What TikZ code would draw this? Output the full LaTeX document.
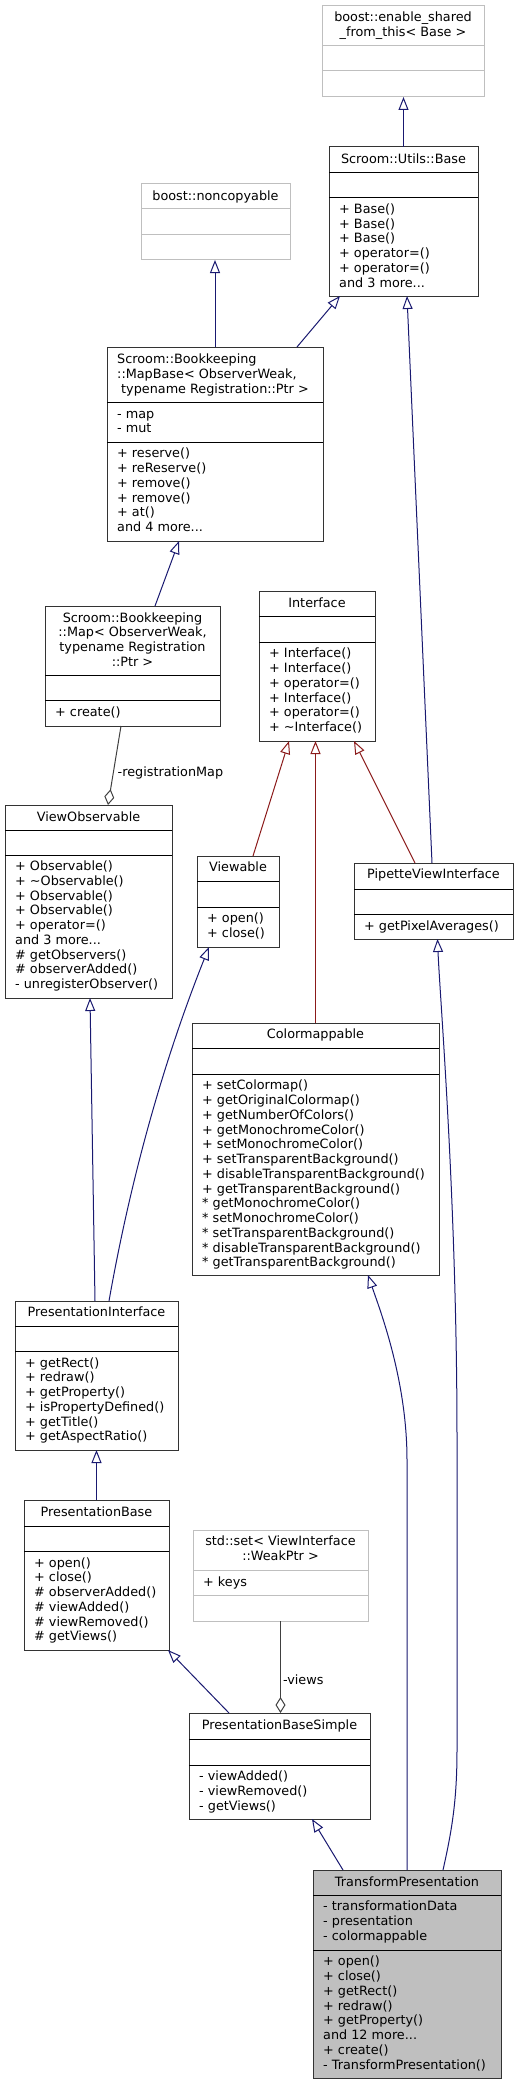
\documentclass[tikz,border=0pt]{standalone}
\usepackage{fontspec}
\setmainfont{DejaVu Sans}
\usetikzlibrary{arrows.meta}

\definecolor{inhblue}{HTML}{191970}
\definecolor{inhred}{HTML}{8B1A1A}
\definecolor{agggray}{HTML}{404040}
\definecolor{extgray}{HTML}{BFBFBF}
\newcommand{\umlfont}{\fontsize{12.8}{14.75}\selectfont}
\newcommand{\leftlines}[1]{\begin{tabular}[t]{@{}l@{}}#1\end{tabular}}
\newcommand{\midlines}[1]{\begin{tabular}[t]{@{}c@{}}#1\end{tabular}}

\tikzset{
  cls/.style={draw=black!80, line width=1pt, inner sep=0pt, outer sep=0pt, anchor=north west},
  extcls/.style={cls, draw=extgray},
  sepline/.style={line width=1pt, black},
  extsep/.style={line width=1pt, extgray},
  ttl/.style={inner sep=0pt, anchor=base, font=\umlfont},
  mbr/.style={inner sep=0pt, anchor=base west, font=\umlfont},
  lbl/.style={inner sep=0pt, font=\umlfont, black},
  inh/.style={line width=1pt, inhblue, -{Triangle[open, length=13pt, width=10pt]}},
  inhr/.style={inh, inhred},
  agg/.style={line width=1pt, agggray, -{Diamond[open, length=16pt, width=10pt]}},
}

\begin{document}
\begin{tikzpicture}[x=1pt, y=-1pt]
  \useasboundingbox (0,0) rectangle (519,2084);

  % boost::enable_shared_from_this
  \node[extcls, minimum width=162pt, minimum height=91pt] (esft) at (322,6) {};
  \draw[extsep] (esft.west |- 0,46) -- (esft.east |- 0,46);
  \draw[extsep] (esft.west |- 0,71) -- (esft.east |- 0,71);
  \node[ttl] (esft-t) at (403,21.5) {\midlines{boost::enable\_shared\\\_from\_this< Base >}};

  % Scroom::Utils::Base
  \node[cls, minimum width=149pt, minimum height=149pt] (base) at (329,147) {};
  \draw[sepline] (base.west |- 0,173) -- (base.east |- 0,173);
  \draw[sepline] (base.west |- 0,198) -- (base.east |- 0,198);
  \node[ttl] (base-t) at (403.5,163.5) {Scroom::Utils::Base};
  \node[mbr] (base-m) at (339,213.5) {\leftlines{+ Base()\\+ Base()\\+ Base()\\+ operator=()\\+ operator=()\\and 3 more...}};

  % boost::noncopyable
  \node[extcls, minimum width=149pt, minimum height=76pt] (noncopy) at (141,184) {};
  \draw[extsep] (noncopy.west |- 0,209) -- (noncopy.east |- 0,209);
  \draw[extsep] (noncopy.west |- 0,235) -- (noncopy.east |- 0,235);
  \node[ttl] (noncopy-t) at (215.5,200.5) {boost::noncopyable};

  % MapBase
  \node[cls, minimum width=216pt, minimum height=194pt] (mapbase) at (107,347) {};
  \draw[sepline] (mapbase.west |- 0,402) -- (mapbase.east |- 0,402);
  \draw[sepline] (mapbase.west |- 0,442) -- (mapbase.east |- 0,442);
  \node[mbr] (mapbase-t) at (117,363.5) {\leftlines{Scroom::Bookkeeping\\::MapBase< ObserverWeak,\\\hspace*{4pt}typename Registration::Ptr >}};
  \node[mbr] (mapbase-a) at (117,418) {\leftlines{- map\\- mut}};
  \node[mbr] (mapbase-m) at (117,457.8) {\leftlines{+ reserve()\\+ reReserve()\\+ remove()\\+ remove()\\+ at()\\and 4 more...}};

  % Map
  \node[cls, minimum width=175pt, minimum height=120pt] (map) at (45,606) {};
  \draw[sepline] (map.west |- 0,675) -- (map.east |- 0,675);
  \draw[sepline] (map.west |- 0,700) -- (map.east |- 0,700);
  \node[ttl] (map-t) at (132.5,622) {\midlines{Scroom::Bookkeeping\\::Map< ObserverWeak,\\typename Registration\\::Ptr >}};
  \node[mbr] (map-m) at (55,716.5) {+ create()};

  % Interface
  \node[cls, minimum width=116pt, minimum height=150pt] (iface) at (259,591) {};
  \draw[sepline] (iface.west |- 0,616) -- (iface.east |- 0,616);
  \draw[sepline] (iface.west |- 0,642) -- (iface.east |- 0,642);
  \node[ttl] (iface-t) at (317,607) {Interface};
  \node[mbr] (iface-m) at (269,657.8) {\leftlines{+ Interface()\\+ Interface()\\+ operator=()\\+ Interface()\\+ operator=()\\+ \textasciitilde Interface()}};

  % ViewObservable
  \node[cls, minimum width=167pt, minimum height=193pt] (viewobs) at (5,805) {};
  \draw[sepline] (viewobs.west |- 0,830) -- (viewobs.east |- 0,830);
  \draw[sepline] (viewobs.west |- 0,855) -- (viewobs.east |- 0,855);
  \node[ttl] (viewobs-t) at (88.5,821) {ViewObservable};
  \node[mbr] (viewobs-m) at (15,870.5) {\leftlines{+ Observable()\\+ \textasciitilde Observable()\\+ Observable()\\+ Observable()\\+ operator=()\\and 3 more...\\\# getObservers()\\\# observerAdded()\\- unregisterObserver()}};

  % Viewable
  \node[cls, minimum width=82pt, minimum height=91pt] (viewable) at (197,856) {};
  \draw[sepline] (viewable.west |- 0,881) -- (viewable.east |- 0,881);
  \draw[sepline] (viewable.west |- 0,907) -- (viewable.east |- 0,907);
  \node[ttl] (viewable-t) at (238,871.5) {Viewable};
  \node[mbr] (viewable-m) at (207,922.8) {\leftlines{+ open()\\+ close()}};

  % PipetteViewInterface
  \node[cls, minimum width=159pt, minimum height=76pt] (pipette) at (354,863) {};
  \draw[sepline] (pipette.west |- 0,889) -- (pipette.east |- 0,889);
  \draw[sepline] (pipette.west |- 0,914) -- (pipette.east |- 0,914);
  \node[ttl] (pipette-t) at (433.5,878.8) {PipetteViewInterface};
  \node[mbr] (pipette-m) at (364,930) {+ getPixelAverages()};

  % Colormappable
  \node[cls, minimum width=247pt, minimum height=252pt] (cmap) at (192,1023) {};
  \draw[sepline] (cmap.west |- 0,1048) -- (cmap.east |- 0,1048);
  \draw[sepline] (cmap.west |- 0,1074) -- (cmap.east |- 0,1074);
  \node[ttl] (cmap-t) at (315.5,1038.8) {Colormappable};
  \node[mbr] (cmap-m) at (202,1089.8) {\leftlines{+ setColormap()\\+ getOriginalColormap()\\+ getNumberOfColors()\\+ getMonochromeColor()\\+ setMonochromeColor()\\+ setTransparentBackground()\\+ disableTransparentBackground()\\+ getTransparentBackground()\\{*} getMonochromeColor()\\{*} setMonochromeColor()\\{*} setTransparentBackground()\\{*} disableTransparentBackground()\\{*} getTransparentBackground()}};

  % PresentationInterface
  \node[cls, minimum width=163pt, minimum height=149pt] (presiface) at (15,1301) {};
  \draw[sepline] (presiface.west |- 0,1326) -- (presiface.east |- 0,1326);
  \draw[sepline] (presiface.west |- 0,1351) -- (presiface.east |- 0,1351);
  \node[ttl] (presiface-t) at (96.5,1316.8) {PresentationInterface};
  \node[mbr] (presiface-m) at (25,1367.2) {\leftlines{+ getRect()\\+ redraw()\\+ getProperty()\\+ isPropertyDefined()\\+ getTitle()\\+ getAspectRatio()}};

  % PresentationBase
  \node[cls, minimum width=145pt, minimum height=150pt] (presbase) at (24,1500) {};
  \draw[sepline] (presbase.west |- 0,1526) -- (presbase.east |- 0,1526);
  \draw[sepline] (presbase.west |- 0,1551) -- (presbase.east |- 0,1551);
  \node[ttl] (presbase-t) at (96.5,1516.8) {PresentationBase};
  \node[mbr] (presbase-m) at (34,1567.2) {\leftlines{+ open()\\+ close()\\\# observerAdded()\\\# viewAdded()\\\# viewRemoved()\\\# getViews()}};

  % std::set
  \node[extcls, minimum width=175pt, minimum height=91pt] (stdset) at (193,1530) {};
  \draw[extsep] (stdset.west |- 0,1570) -- (stdset.east |- 0,1570);
  \draw[extsep] (stdset.west |- 0,1595) -- (stdset.east |- 0,1595);
  \node[ttl] (stdset-t) at (280.5,1545.8) {\midlines{std::set< ViewInterface\\::WeakPtr >}};
  \node[mbr] (stdset-a) at (203,1586.2) {+ keys};

  % PresentationBaseSimple
  \node[cls, minimum width=181pt, minimum height=106pt] (pbsimple) at (189,1713) {};
  \draw[sepline] (pbsimple.west |- 0,1739) -- (pbsimple.east |- 0,1739);
  \draw[sepline] (pbsimple.west |- 0,1765) -- (pbsimple.east |- 0,1765);
  \node[ttl] (pbsimple-t) at (279.5,1729.8) {PresentationBaseSimple};
  \node[mbr] (pbsimple-m) at (199,1780.5) {\leftlines{- viewAdded()\\- viewRemoved()\\- getViews()}};

  % TransformPresentation
  \node[cls, fill=extgray, minimum width=188pt, minimum height=208pt] (transform) at (313,1870) {};
  \draw[sepline] (transform.west |- 0,1895) -- (transform.east |- 0,1895);
  \draw[sepline] (transform.west |- 0,1950) -- (transform.east |- 0,1950);
  \node[ttl] (transform-t) at (407,1886.2) {TransformPresentation};
  \node[mbr] (transform-a) at (323,1910.8) {\leftlines{- transformationData\\- presentation\\- colormappable}};
  \node[mbr] (transform-m) at (323,1965.8) {\leftlines{+ open()\\+ close()\\+ getRect()\\+ redraw()\\+ getProperty()\\and 12 more...\\+ create()\\- TransformPresentation()}};

  % inheritance
  \draw[inh] (base.north) -- (base.north |- esft.south);
  \draw[inh] (mapbase.north) -- (mapbase.north |- noncopy.south);
  \draw[inh] ([xshift=190pt]mapbase.north west) -- ([xshift=11pt]base.south west);
  \draw[inh] ([xshift=110pt]map.north west) -- ([xshift=72pt]mapbase.south west);
  \draw[inhr] ([xshift=56pt]viewable.north west) -- ([xshift=30pt]iface.south west);
  \draw[inhr] (cmap.north) -- (cmap.north |- iface.south);
  \draw[inhr] ([xshift=61pt]pipette.north west) -- ([xshift=-21pt]iface.south east);
  \draw[inh] ([xshift=-1.5pt]pipette.north) -- ([xshift=3.5pt]base.south);
  \draw[inh] ([xshift=80pt]presiface.north west) -- ([xshift=85pt]viewobs.south west);
  \draw[inh] ([xshift=94pt]presiface.north west) .. controls (130,1182) and (162,1065) .. ([xshift=12pt]viewable.south west);
  \draw[inh] (presbase.north) -- (presiface.south);
  \draw[inh] ([xshift=40pt]pbsimple.north west) -- ([xshift=-1pt]presbase.south east);
  \draw[inh] ([xshift=30pt]transform.north west) -- ([xshift=123pt]pbsimple.south west);
  \draw[inh] (transform.north) -- ++(0,-410) .. controls ++(0,-80) and (380,1310) .. ([xshift=52.5pt]cmap.south);
  \draw[inh] ([xshift=36pt]transform.north) .. controls (452,1830) and (457,1800) .. (457,1750) -- (457,1440) .. controls (457,1200) and (440,1000) .. ([xshift=4pt]pipette.south);

  % aggregation
  \draw[agg] ([xshift=76pt]map.south west) -- node[lbl, pos=0.6, right=4pt] (regmap-l) {-registrationMap} ([xshift=103pt]viewobs.north west);
  \draw[agg] (stdset.south) -- node[lbl, pos=0.64, right=2pt] (views-l) {-views} (stdset.south |- pbsimple.north);
\end{tikzpicture}
\end{document}
